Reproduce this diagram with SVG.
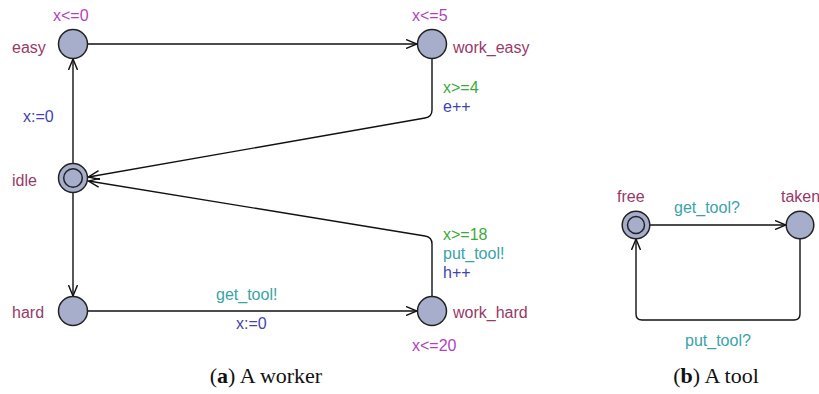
<svg xmlns="http://www.w3.org/2000/svg" width="819" height="394" viewBox="0 0 819 394">
<defs>
<style>
text{font-family:"Liberation Sans",Arial,sans-serif;font-size:16px}
.nm{fill:#973a68}
.inv{fill:#b23fbf}
.g{fill:#3aaa3a}
.s{fill:#3aa3a8}
.u{fill:#4343b0}
.loc{fill:#a7aecb;stroke:#222;stroke-width:1.5}
.e{fill:none;stroke:#111;stroke-width:1.4}
.cap{font-family:"Liberation Serif","Times New Roman",serif;font-size:22px;fill:#111}
</style>
<marker id="ah" viewBox="0 0 12 10" refX="11" refY="5" markerWidth="12" markerHeight="10" markerUnits="userSpaceOnUse" orient="auto">
<path d="M0,0.5 L11,5 L0,9.5" fill="none" stroke="#111" stroke-width="1.4"/>
</marker>
</defs>
<g id="connectors">
<path class="e" d="M88,44 L417,44" marker-end="url(#ah)"/>
<path class="e" d="M73,163 L73,59" marker-end="url(#ah)"/>
<path class="e" d="M73,193 L73,296" marker-end="url(#ah)"/>
<path class="e" d="M88,311 L417,311" marker-end="url(#ah)"/>
<path class="e" d="M432,59 L432,110 Q432,117 425,118 L88.5,177" marker-end="url(#ah)"/>
<path class="e" d="M432,296 L432,244 Q432,237 425,236 L88.5,181" marker-end="url(#ah)"/>
<path class="e" d="M650,225 L786,225" marker-end="url(#ah)"/>
<path class="e" d="M800,239 L800,314 Q800,320 794,320 L642,320 Q636,320 636,314 L636,239" marker-end="url(#ah)"/>
</g>
<g id="easy"><circle class="loc" cx="73" cy="44" r="14.5"/><text class="nm" x="12" y="53">easy</text><text class="inv" x="53" y="21">x&lt;=0</text></g>
<g id="work_easy"><circle class="loc" cx="432" cy="44" r="14.5"/><text class="nm" x="453" y="53">work_easy</text><text class="inv" x="412" y="21">x&lt;=5</text></g>
<g id="idle"><circle class="loc" cx="73" cy="178" r="14.5"/><circle class="loc" cx="73" cy="178" r="9.3"/><text class="nm" x="12" y="186">idle</text></g>
<g id="hard"><circle class="loc" cx="73" cy="311" r="14.5"/><text class="nm" x="12" y="318">hard</text></g>
<g id="work_hard"><circle class="loc" cx="432" cy="311" r="14.5"/><text class="nm" x="453" y="318">work_hard</text><text class="inv" x="412" y="351">x&lt;=20</text></g>
<g id="free"><circle class="loc" cx="636" cy="225" r="13.8"/><circle class="loc" cx="636" cy="225" r="8.5"/><text class="nm" x="617" y="202">free</text></g>
<g id="taken"><circle class="loc" cx="800" cy="225" r="13.8"/><text class="nm" x="781" y="202">taken</text></g>
<g id="labels">
<text class="u" x="23" y="122">x:=0</text>
<text class="g" x="443" y="93">x&gt;=4</text>
<text class="u" x="443" y="112">e++</text>
<text class="g" x="443" y="240">x&gt;=18</text>
<text class="s" x="443" y="259">put_tool!</text>
<text class="u" x="443" y="278">h++</text>
<text class="s" x="216" y="300">get_tool!</text>
<text class="u" x="236" y="329">x:=0</text>
<text class="s" x="674" y="213">get_tool?</text>
<text class="s" x="685" y="346">put_tool?</text>
</g>
<g id="captions">
<text class="cap" x="266" y="383" text-anchor="middle">(<tspan font-weight="bold">a</tspan>) A worker</text>
<text class="cap" x="716" y="383" text-anchor="middle">(<tspan font-weight="bold">b</tspan>) A tool</text>
</g>
</svg>
